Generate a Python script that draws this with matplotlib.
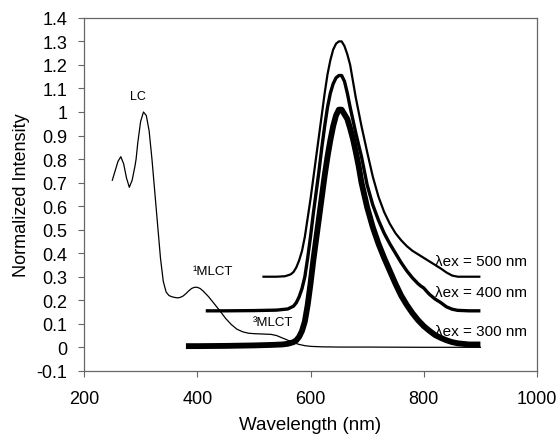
import matplotlib
matplotlib.use("Agg")
import matplotlib.pyplot as plt

plt.rcParams['font.family'] = ['Liberation Sans', 'DejaVu Sans']

# Absorption spectrum (thin line)
abs_wl = [250, 255, 260, 265, 270, 275, 280, 285, 290, 292, 295, 300, 305, 310, 315, 320,
          325, 330, 335, 340, 345, 350, 355, 360, 365, 370, 375, 380, 385, 390, 395, 400,
          405, 410, 420, 430, 440, 450, 460, 470, 480, 490, 500, 510, 520, 530, 540, 550, 560,
          570, 580, 590, 600, 620, 650, 700, 800, 900]
abs_int = [0.71, 0.75, 0.79, 0.81, 0.78, 0.72, 0.68, 0.71, 0.77, 0.80, 0.87, 0.96, 1.00, 0.985, 0.92, 0.80,
           0.66, 0.52, 0.38, 0.28, 0.235, 0.22, 0.215, 0.212, 0.21, 0.212, 0.218, 0.228, 0.24, 0.25, 0.255, 0.255,
           0.25, 0.24, 0.215, 0.185, 0.155, 0.123, 0.097, 0.077, 0.066, 0.06, 0.058, 0.057, 0.056, 0.055, 0.05, 0.04, 0.03,
           0.02, 0.012, 0.007, 0.004, 0.002, 0.001, 0.001, 0.0, 0.0]

# Emission, lambda ex = 300 nm (thickest)
em300_wl = [380, 400, 450, 500, 530, 550, 560, 570, 575, 580, 585, 590, 595, 600, 605, 610,
            615, 620, 625, 630, 635, 640, 645, 650, 655, 660, 665, 670, 675, 680, 685, 690,
            700, 710, 720, 730, 740, 750, 760, 770, 780, 790, 800, 810, 820, 830, 840, 850,
            860, 880, 900]
em300_int = [0.005, 0.005, 0.006, 0.008, 0.01, 0.012, 0.015, 0.022, 0.03, 0.045, 0.07, 0.11, 0.18, 0.27, 0.37, 0.46,
             0.55, 0.64, 0.73, 0.81, 0.88, 0.94, 0.985, 1.01, 1.01, 0.99, 0.97, 0.93, 0.885, 0.83, 0.77, 0.70,
             0.595, 0.51, 0.44, 0.38, 0.325, 0.27, 0.22, 0.18, 0.145, 0.115, 0.09, 0.07, 0.052, 0.04, 0.03, 0.022,
             0.017, 0.012, 0.012]

# Emission, lambda ex = 400 nm
em400_wl = [415, 450, 500, 540, 560, 570, 575, 580, 585, 590, 595, 600, 605, 610, 615, 620,
            625, 630, 635, 640, 645, 650, 655, 660, 665, 670, 680, 690, 700, 710, 720, 730,
            740, 750, 760, 770, 780, 790, 795, 800, 805, 810, 820, 830, 840, 850, 860, 880, 900]
em400_int = [0.155, 0.155, 0.156, 0.158, 0.163, 0.175, 0.19, 0.215, 0.25, 0.30, 0.38, 0.47, 0.57, 0.66, 0.75, 0.85,
             0.94, 1.02, 1.08, 1.12, 1.145, 1.155, 1.155, 1.13, 1.08, 1.02, 0.91, 0.81, 0.69, 0.605, 0.54, 0.485,
             0.44, 0.40, 0.36, 0.325, 0.295, 0.27, 0.26, 0.252, 0.238, 0.225, 0.205, 0.19, 0.172, 0.162, 0.157, 0.155, 0.155]

# Emission, lambda ex = 500 nm
em500_wl = [515, 540, 555, 565, 570, 575, 580, 585, 590, 595, 600, 605, 610, 615, 620, 625,
            630, 635, 640, 645, 650, 655, 660, 665, 670, 680, 690, 700, 710, 720, 730, 740,
            750, 760, 770, 780, 790, 800, 810, 820, 830, 840, 850, 860, 880, 900]
em500_int = [0.30, 0.30, 0.302, 0.31, 0.32, 0.34, 0.37, 0.41, 0.47, 0.55, 0.63, 0.72, 0.81, 0.90, 0.99, 1.08,
             1.16, 1.22, 1.265, 1.29, 1.30, 1.30, 1.28, 1.245, 1.20, 1.06, 0.94, 0.83, 0.725, 0.64, 0.575, 0.525,
             0.485, 0.455, 0.43, 0.41, 0.395, 0.38, 0.365, 0.35, 0.335, 0.318, 0.305, 0.30, 0.30, 0.30]

x_ticks = [200, 400, 600, 800, 1000]
y_ticks = [-0.1, 0, 0.1, 0.2, 0.3, 0.4, 0.5, 0.6, 0.7, 0.8, 0.9, 1, 1.1, 1.2, 1.3, 1.4]
y_tick_labels = ['-0.1', '0', '0.1', '0.2', '0.3', '0.4', '0.5', '0.6', '0.7', '0.8', '0.9',
                 '1', '1.1', '1.2', '1.3', '1.4']

fig = plt.figure(figsize=(5.6, 4.39), dpi=100)
ax = fig.add_axes([0.15, 0.153, 0.809, 0.804])

ax.plot(abs_wl, abs_int, color='black', lw=0.9)
ax.plot(em300_wl, em300_int, color='black', lw=4.2, solid_capstyle='butt')
ax.plot(em400_wl, em400_int, color='black', lw=2.4, solid_capstyle='butt')
ax.plot(em500_wl, em500_int, color='black', lw=1.6, solid_capstyle='butt')

ax.set_xlim(200, 1000)
ax.set_ylim(-0.1, 1.4)
ax.set_xticks(x_ticks)
ax.set_yticks(y_ticks)
ax.set_yticklabels(y_tick_labels)
ax.tick_params(direction='out', length=4, width=0.8, color='#666666', labelsize=13,
               labelcolor='black')
ax.tick_params(axis='y', pad=8)
ax.tick_params(axis='x', pad=10)
for s in ax.spines.values():
    s.set_color('#666666')
    s.set_linewidth(0.9)

ax.set_xlabel('Wavelength (nm)', fontsize=13.5, labelpad=6)
ax.set_ylabel('Normalized Intensity', fontsize=13, labelpad=5)

ax.text(295, 1.07, 'LC', fontsize=9, ha='center', va='center')
ax.text(428, 0.326, '¹MLCT', fontsize=9.5, ha='center', va='center')
ax.text(534, 0.109, '³MLCT', fontsize=9.5, ha='center', va='center')
ax.text(983, 0.366, 'λex = 500 nm', fontsize=11, ha='right', va='center')
ax.text(983, 0.237, 'λex = 400 nm', fontsize=11, ha='right', va='center')
ax.text(983, 0.070, 'λex = 300 nm', fontsize=11, ha='right', va='center')

fig.savefig('out.png', dpi=100)
